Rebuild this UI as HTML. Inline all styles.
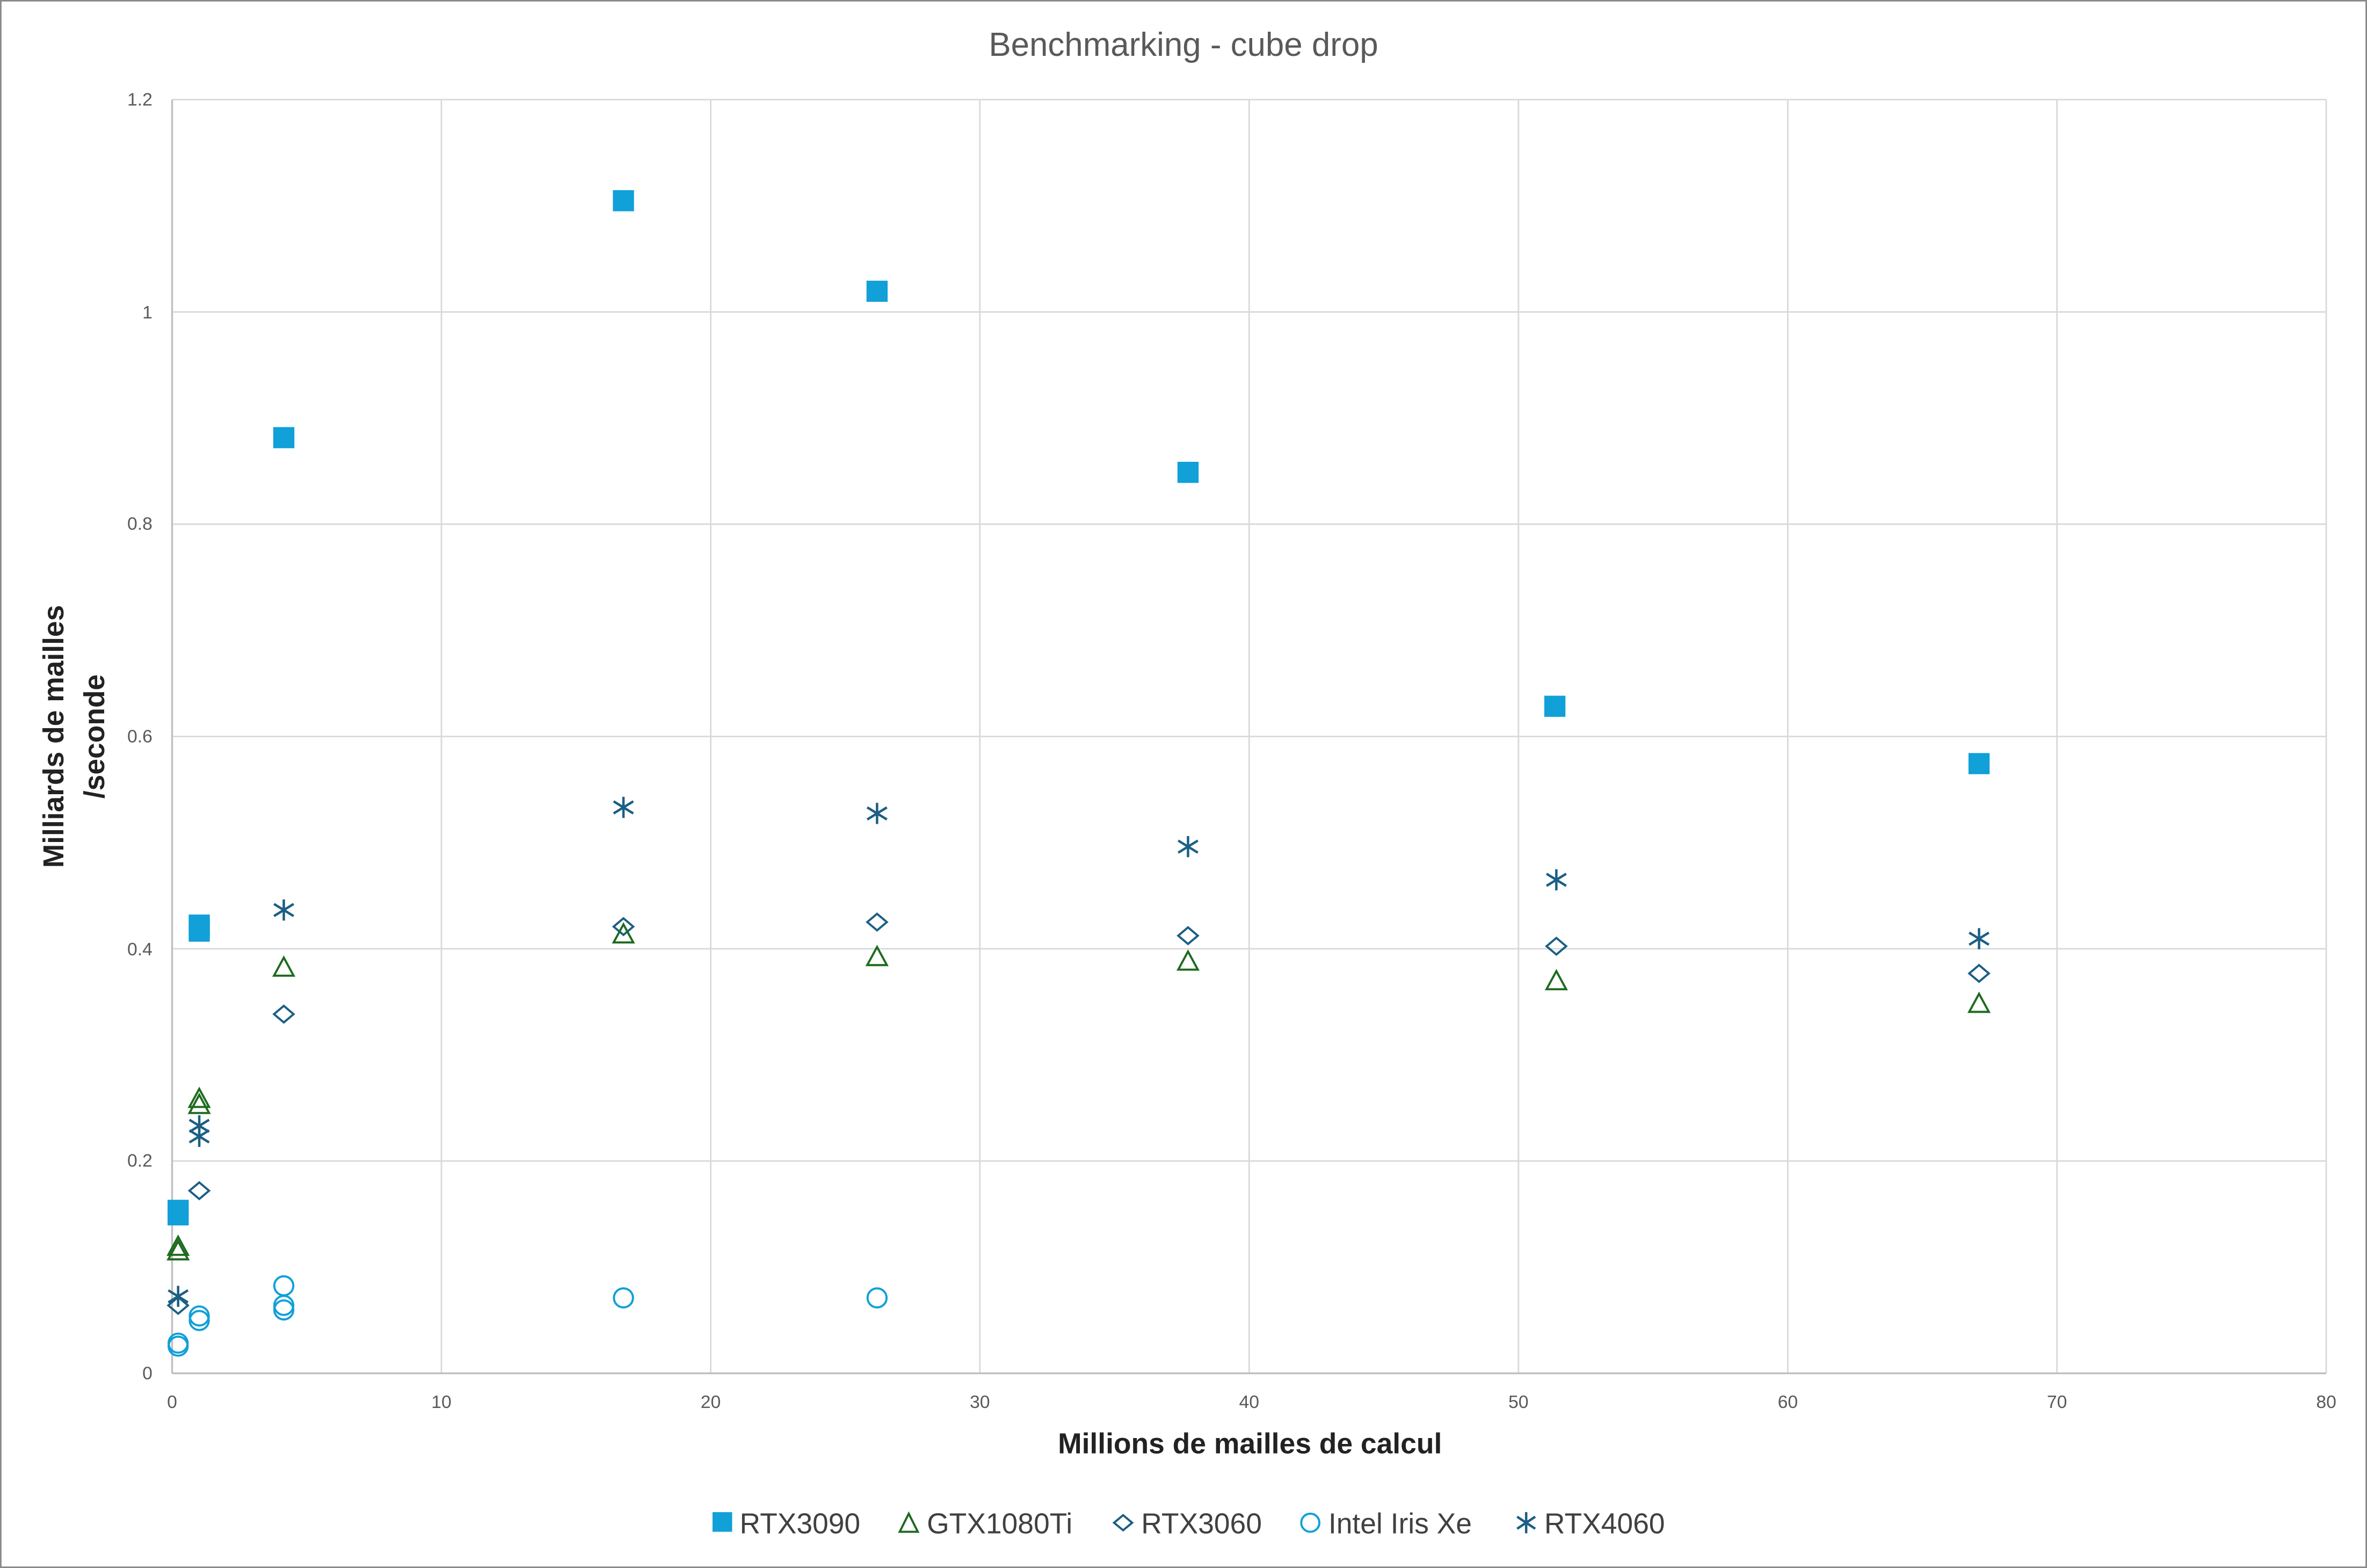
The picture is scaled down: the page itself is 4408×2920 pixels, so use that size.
<!DOCTYPE html>
<html><head><meta charset="utf-8"><style>
html,body{margin:0;padding:0;background:#fff;}
svg{display:block;}
text{font-family:"Liberation Sans",sans-serif;}
</style></head><body>
<svg width="4408" height="2920" viewBox="0 0 1568 1039" preserveAspectRatio="none" xmlns="http://www.w3.org/2000/svg">
<defs>
<g id="sq"><rect x="-7" y="-7" width="14" height="14" fill="#11a0d8"/></g>
<g id="tri"><path d="M-6.5,5.5 L0,-6.5 L6.5,5.5 Z" fill="none" stroke="#1e6b1e" stroke-width="1.4"/></g>
<g id="dia"><path d="M-6.5,0 L0,-5.5 L6.5,0 L0,5.5 Z" fill="none" stroke="#1b5f85" stroke-width="1.4"/></g>
<g id="cir"><circle r="6.3" fill="none" stroke="#11a0d8" stroke-width="1.4"/></g>
<g id="ast" stroke="#1b5f85" stroke-width="1.6"><path d="M0,-7V7M-6.5,-4L6.5,4M-6.5,4L6.5,-4"/></g>
</defs>
<rect x="0.5" y="0.5" width="1567" height="1038" fill="#fff" stroke="#888" stroke-width="1"/>
<text x="784" y="37" text-anchor="middle" font-size="22" fill="#595959">Benchmarking - cube drop</text>
<g stroke="#d9d9d9" stroke-width="1">
<line x1="114" y1="66" x2="1541" y2="66"/><line x1="114" y1="206.7" x2="1541" y2="206.7"/>
<line x1="114" y1="347.3" x2="1541" y2="347.3"/><line x1="114" y1="488" x2="1541" y2="488"/>
<line x1="114" y1="628.7" x2="1541" y2="628.7"/><line x1="114" y1="769.3" x2="1541" y2="769.3"/>
<line x1="292.4" y1="66" x2="292.4" y2="910"/><line x1="470.8" y1="66" x2="470.8" y2="910"/>
<line x1="649.1" y1="66" x2="649.1" y2="910"/><line x1="827.5" y1="66" x2="827.5" y2="910"/>
<line x1="1005.9" y1="66" x2="1005.9" y2="910"/><line x1="1184.3" y1="66" x2="1184.3" y2="910"/>
<line x1="1362.6" y1="66" x2="1362.6" y2="910"/><line x1="1541" y1="66" x2="1541" y2="910"/>
</g>
<g stroke="#bfbfbf" stroke-width="1.2"><line x1="114" y1="66" x2="114" y2="910"/><line x1="114" y1="910" x2="1541" y2="910"/></g>
<g font-size="12" fill="#595959" text-anchor="end">
<text x="101" y="70">1.2</text><text x="101" y="211">1</text><text x="101" y="351">0.8</text>
<text x="101" y="492">0.6</text><text x="101" y="633">0.4</text><text x="101" y="773">0.2</text><text x="101" y="914">0</text>
</g>
<g font-size="12" fill="#595959" text-anchor="middle">
<text x="114" y="933">0</text><text x="292.4" y="933">10</text><text x="470.8" y="933">20</text><text x="649.1" y="933">30</text>
<text x="827.5" y="933">40</text><text x="1005.9" y="933">50</text><text x="1184.3" y="933">60</text><text x="1362.6" y="933">70</text><text x="1541" y="933">80</text>
</g>
<text x="828" y="963" text-anchor="middle" font-size="19" font-weight="bold" fill="#222">Millions de mailles de calcul</text>
<text transform="translate(42,488) rotate(-90)" text-anchor="middle" font-size="19" font-weight="bold" fill="#222">Milliards de mailles</text>
<text transform="translate(69,488) rotate(-90)" text-anchor="middle" font-size="19" font-weight="bold" fill="#222">/seconde</text>
<!-- intel -->
<use href="#cir" x="118" y="892"/><use href="#cir" x="118" y="890"/>
<use href="#cir" x="132" y="875"/><use href="#cir" x="132" y="872"/>
<use href="#cir" x="188" y="852"/><use href="#cir" x="188" y="868"/><use href="#cir" x="188" y="865"/>
<use href="#cir" x="413" y="860"/><use href="#cir" x="581" y="860"/>
<!-- 3060 -->
<use href="#dia" x="118" y="865"/><use href="#dia" x="132" y="789"/><use href="#dia" x="188" y="672"/>
<use href="#dia" x="413" y="614"/><use href="#dia" x="581" y="611"/><use href="#dia" x="787" y="620"/>
<use href="#dia" x="1031" y="627"/><use href="#dia" x="1311" y="645"/>
<!-- 1080 -->
<use href="#tri" x="118" y="829"/><use href="#tri" x="118" y="826"/>
<use href="#tri" x="132" y="732"/><use href="#tri" x="132" y="728"/><use href="#tri" x="188" y="641"/>
<use href="#tri" x="413" y="619"/><use href="#tri" x="581" y="634"/><use href="#tri" x="787" y="637"/>
<use href="#tri" x="1031" y="650"/><use href="#tri" x="1311" y="665"/>
<!-- 4060 -->
<use href="#ast" x="118" y="859"/><use href="#ast" x="132" y="753"/><use href="#ast" x="132" y="746"/><use href="#ast" x="188" y="603"/>
<use href="#ast" x="413" y="535"/><use href="#ast" x="581" y="539"/><use href="#ast" x="787" y="561"/>
<use href="#ast" x="1031" y="583"/><use href="#ast" x="1311" y="622"/>
<!-- 3090 -->
<use href="#sq" x="118" y="805"/><use href="#sq" x="118" y="802"/>
<use href="#sq" x="132" y="617"/><use href="#sq" x="132" y="613"/><use href="#sq" x="188" y="290"/>
<use href="#sq" x="413" y="133"/><use href="#sq" x="581" y="193"/><use href="#sq" x="787" y="313"/>
<use href="#sq" x="1030" y="468"/><use href="#sq" x="1311" y="506"/>
<!-- legend -->
<g font-size="19" fill="#404040">
<rect x="472" y="1002" width="13" height="13" fill="#11a0d8"/><text x="490" y="1016">RTX3090</text>
<path d="M596,1015 L602,1003 L608,1015 Z" fill="none" stroke="#1e6b1e" stroke-width="1.4"/><text x="614" y="1016">GTX1080Ti</text>
<path d="M738,1009 L744,1004 L750,1009 L744,1014 Z" fill="none" stroke="#1b5f85" stroke-width="1.4"/><text x="756" y="1016">RTX3060</text>
<circle cx="868" cy="1009" r="6" fill="none" stroke="#11a0d8" stroke-width="1.4"/><text x="880" y="1016">Intel Iris Xe</text>
<g stroke="#1b5f85" stroke-width="1.6"><path d="M1011,1002V1016M1005,1005L1017,1013M1005,1013L1017,1005"/></g><text x="1023" y="1016">RTX4060</text>
</g>
</svg>
</body></html>
